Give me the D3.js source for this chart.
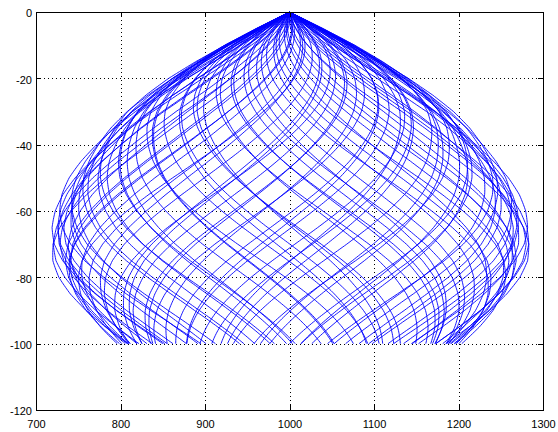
<!DOCTYPE html>
<html>
<head>
<meta charset="utf-8">
<script src="https://cdn.jsdelivr.net/npm/d3@7"></script>
<style>
  html, body { margin: 0; padding: 0; background: #fff; }
  svg { display: block; }
  .tick text { font-family: "Liberation Sans", Arial, Helvetica, sans-serif; font-size: 11px; fill: #000; }
</style>
</head>
<body>
<svg id="chart" width="558" height="432"></svg>
<script>
// Axis limits and tick labels
const xDomain = [700, 1300];
const yDomain = [-120, 0];
const xTicks = [700, 800, 900, 1000, 1100, 1200, 1300];
const yTicks = [-120, -100, -80, -60, -40, -20, 0];

// Apex of the dome and the depth where the strands stop
const apexX = 1000;
const bottomDepth = 100;

// Outline of the dome: half-width at each depth below the apex
const outlineDepth     = [0, 5, 10, 15, 20, 25, 30, 35, 40, 45, 50, 55, 60, 65, 70, 75, 80, 85, 90, 95, 100];
const outlineHalfWidth = [0, 40, 78, 112, 143, 170, 194, 214, 231, 247, 261, 272, 280, 285, 286, 282, 273, 260, 244, 225, 204];

// Strands wound round the dome: starting angle (degrees), share of the
// outline half-width reached, and turn per unit of depth (degrees)
const strandAngle = [
    0,   5,   7,  12,  15,  18,  23,  26,  31,  34,  36,  42,
   45,  48,  53,  56,  59,  65,  67,  70,  76,  79,  81,  87,
   90,  93,  98, 101, 104, 110, 112, 115, 121, 124, 126, 132,
  135, 138, 143, 146, 149, 155, 157, 160, 166, 169, 171, 177,
  180, 183, 188, 191, 194, 200, 202, 205, 211, 214, 216, 222,
  225, 228, 233, 236, 239, 245, 247, 250, 256, 259, 261, 267,
  270, 273, 278, 281, 284, 290, 292, 295, 301, 304, 306, 312,
  315, 318, 323, 326, 329, 335, 337, 340, 346, 349, 351, 357];
const strandReach = [
  0.97, 1.00, 0.94, 0.98, 0.95, 0.99, 0.93, 0.96, 1.00, 0.95, 0.97, 0.92,
  0.99, 0.95, 0.98, 0.94, 1.00, 0.96, 0.93, 0.98, 0.95, 0.99, 0.94, 0.97,
  1.00, 0.93, 0.96, 0.98, 0.94, 0.99, 0.95, 0.97, 1.00, 0.94, 0.92, 0.98,
  0.96, 0.99, 0.93, 0.97, 0.95, 1.00, 0.93, 0.98, 0.94, 0.96, 0.99, 0.93,
  0.97, 1.00, 0.95, 0.92, 0.98, 0.96, 0.94, 0.99, 0.97, 0.93, 1.00, 0.95,
  0.98, 0.94, 0.96, 0.99, 0.92, 0.97, 1.00, 0.95, 0.93, 0.98, 0.96, 0.99,
  0.94, 0.97, 1.00, 0.93, 0.95, 0.98, 0.96, 0.92, 0.99, 0.97, 0.94, 1.00,
  0.95, 0.98, 0.93, 0.96, 0.99, 0.94, 0.97, 1.00, 0.92, 0.96, 0.98, 0.95];
const strandTwist = [
  1.05, 1.10, 1.02, 1.08, 1.13, 1.03, 1.07, 1.15, 1.04, 1.09, 1.01, 1.12,
  1.06, 1.03, 1.14, 1.08, 1.02, 1.11, 1.05, 1.10, 1.00, 1.13, 1.06, 1.03,
  1.09, 1.16, 1.04, 1.11, 1.01, 1.07, 1.12, 1.03, 1.10, 1.05, 1.15, 1.02,
  1.08, 1.12, 1.04, 1.00, 1.10, 1.14, 1.06, 1.03, 1.09, 1.13, 1.04, 1.11,
  1.01, 1.07, 1.15, 1.05, 1.03, 1.10, 1.12, 1.08, 1.02, 1.06, 1.13, 1.04,
  1.09, 1.01, 1.11, 1.07, 1.14, 1.03, 1.08, 1.12, 1.05, 1.00, 1.10, 1.15,
  1.06, 1.02, 1.09, 1.13, 1.04, 1.11, 1.07, 1.01, 1.12, 1.05, 1.16, 1.03,
  1.08, 1.10, 1.02, 1.06, 1.14, 1.04, 1.09, 1.12, 1.03, 1.07, 1.11, 1.05];

const W = 558, H = 432;
const margin = { left: 36, right: 15, top: 12, bottom: 22 };
const svg = d3.select("#chart");

const x = d3.scaleLinear().domain(xDomain).range([margin.left, W - margin.right]);
const y = d3.scaleLinear().domain(yDomain).range([H - margin.bottom, margin.top]);
const halfWidth = d3.scaleLinear().domain(outlineDepth).range(outlineHalfWidth);

// Dotted grid
const grid = svg.append("g").attr("stroke", "#000").attr("stroke-width", 1)
  .attr("stroke-dasharray", "1,3").attr("shape-rendering", "crispEdges");
xTicks.slice(1, -1).forEach(v => grid.append("line")
  .attr("x1", Math.round(x(v)) + 0.5).attr("x2", Math.round(x(v)) + 0.5)
  .attr("y1", y(0)).attr("y2", y(-120)));
yTicks.slice(1, -1).forEach(v => grid.append("line")
  .attr("y1", Math.round(y(v)) + 0.5).attr("y2", Math.round(y(v)) + 0.5)
  .attr("x1", x(700)).attr("x2", x(1300)));

// Strands seen from the side
const depths = d3.range(0, bottomDepth + 0.25, 0.5);
const toRad = Math.PI / 180;
const strands = strandAngle.map((a, i) => depths.map(d => ({
  dx: apexX + strandReach[i] * halfWidth(d) * Math.sin((a + strandTwist[i] * d) * toRad),
  dy: -d
})));

const line = d3.line().x(p => x(p.dx)).y(p => y(p.dy));
svg.append("g").selectAll("path").data(strands).join("path")
  .attr("d", line)
  .attr("fill", "none").attr("stroke", "#0000ff").attr("stroke-width", 0.9);

// Axes with inward ticks on all four sides
const tickLen = 5;
const fmt = d => String(d);
svg.append("g").attr("transform", `translate(0,${y(-120)})`)
  .call(d3.axisBottom(x).tickValues(xTicks).tickFormat(fmt).tickSize(-tickLen).tickPadding(10).tickSizeOuter(0))
  .call(g => g.select(".domain").remove());
svg.append("g").attr("transform", `translate(0,${y(0)})`)
  .call(d3.axisTop(x).tickValues(xTicks).tickSize(-tickLen).tickFormat("").tickSizeOuter(0))
  .call(g => g.select(".domain").remove());
svg.append("g").attr("transform", `translate(${x(700)},0)`)
  .call(d3.axisLeft(y).tickValues(yTicks).tickFormat(fmt).tickSize(-tickLen).tickPadding(4).tickSizeOuter(0))
  .call(g => g.select(".domain").remove())
  .call(g => g.selectAll("text").attr("dy", "0.45em"));
svg.append("g").attr("transform", `translate(${x(1300)},0)`)
  .call(d3.axisRight(y).tickValues(yTicks).tickSize(-tickLen).tickFormat("").tickSizeOuter(0))
  .call(g => g.select(".domain").remove());

svg.selectAll(".tick line").attr("stroke", "#000").attr("shape-rendering", "crispEdges");

// Axes box
svg.append("rect")
  .attr("x", Math.round(x(700)) + 0.5).attr("y", Math.round(y(0)) + 0.5)
  .attr("width", Math.round(x(1300)) - Math.round(x(700)))
  .attr("height", Math.round(y(-120)) - Math.round(y(0)))
  .attr("fill", "none").attr("stroke", "#000").attr("shape-rendering", "crispEdges");
</script>
</body>
</html>
